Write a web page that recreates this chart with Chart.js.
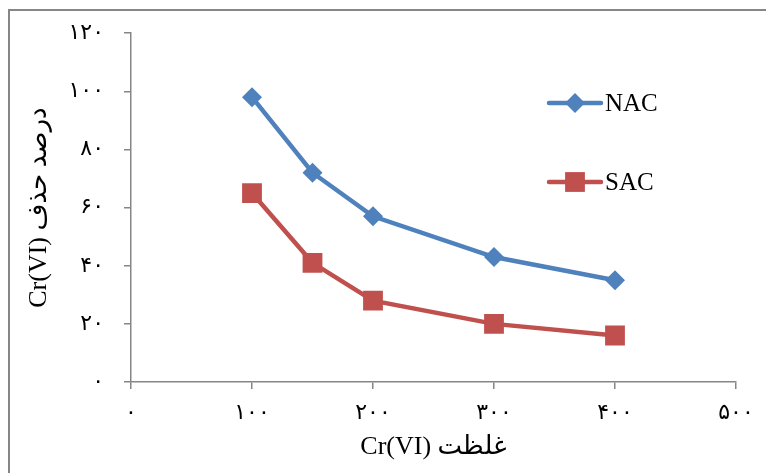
<!DOCTYPE html>
<html>
<head>
<meta charset="utf-8">
<script src="https://cdn.jsdelivr.net/npm/chart.js@4/dist/chart.umd.min.js"></script>
<style>
	body { margin: 0; background: #fff; }
	#wrap { position: relative; width: 766px; height: 473px; }
</style>
</head>
<body>
<div id="wrap"><canvas id="grafico"></canvas></div>
<script>
const concentrazioni = [100, 150, 200, 300, 400];
const nac = [98, 72, 57, 43, 35];
const sac = [65, 41, 28, 20, 16];
const xTicks = [0, 100, 200, 300, 400, 500];
const yTicks = [0, 20, 40, 60, 80, 100, 120];
const cifre = ["۰", "۱", "۲", "۳", "۴", "۵", "۶", "۷", "۸", "۹"];

const FONT = "'Liberation Serif', 'DejaVu Sans', serif";
const BLU = "#4F81BD";
const ROSSO = "#C0504D";
const GRIGIO = "#868686";

function persiano(n) {
	return String(n).split("").map(c => cifre[c] || c).join("");
}

function punti(valori) {
	return concentrazioni.map((x, i) => ({ x: x, y: valori[i] }));
}

// cornice esterna (solo lati sinistro e superiore visibili)
const cornice = {
	id: "cornice",
	beforeDraw(chart) {
		let ctx = chart.ctx;
		ctx.save();
		ctx.strokeStyle = GRIGIO;
		ctx.lineWidth = 2;
		ctx.strokeRect(9, 10, 800, 500);
		ctx.restore();
	}
};

// legenda disegnata a mano, come nell'originale
const legenda = {
	id: "legenda",
	afterDraw(chart) {
		let ctx = chart.ctx;
		let righe = [103, 182];
		chart.data.datasets.forEach((ds, i) => {
			let y = righe[i];
			ctx.save();
			ctx.strokeStyle = ds.borderColor;
			ctx.lineWidth = ds.borderWidth;
			ctx.lineCap = "round";
			ctx.beginPath();
			ctx.moveTo(549, y);
			ctx.lineTo(601, y);
			ctx.stroke();
			ctx.fillStyle = ds.backgroundColor;
			ctx.strokeStyle = ds.backgroundColor;
			Chart.helpers.drawPoint(ctx, {
				pointStyle: ds.pointStyle,
				radius: ds.pointRadius,
				rotation: 0,
				borderWidth: 0
			}, 575, y);
			ctx.fillStyle = "#000";
			ctx.font = "25px " + FONT;
			ctx.textBaseline = "middle";
			ctx.fillText(ds.label, 605, y + 1);
			ctx.restore();
		});
	}
};

let data = {
	type: "line",
	data: {
		datasets: [{
			label: "NAC",
			data: punti(nac),
			borderColor: BLU,
			backgroundColor: BLU,
			borderWidth: 4.5,
			pointStyle: "rectRot",
			pointRadius: 10,
			pointBorderWidth: 0,
			tension: 0
		}, {
			label: "SAC",
			data: punti(sac),
			borderColor: ROSSO,
			backgroundColor: ROSSO,
			borderWidth: 4.5,
			pointStyle: "rect",
			pointRadius: 14,
			pointBorderWidth: 0,
			tension: 0
		}]
	},
	options: {
		responsive: true,
		maintainAspectRatio: false,
		animation: false,
		layout: { padding: { top: 33, right: 30, left: 0, bottom: 0 } },
		plugins: {
			legend: { display: false },
			tooltip: { enabled: false }
		},
		scales: {
			x: {
				type: "linear",
				min: 0,
				max: 500,
				afterBuildTicks: (scale) => { scale.ticks = xTicks.map(v => ({ value: v })); },
				afterFit: (scale) => { scale.height = 91; },
				ticks: {
					color: "#000",
					font: { family: FONT, size: 22 },
					padding: 11,
					callback: (v) => persiano(v)
				},
				grid: { drawOnChartArea: false, drawTicks: true, tickLength: 7, color: GRIGIO, lineWidth: 1.5 },
				border: { color: GRIGIO, width: 1.5 },
				title: {
					display: true,
					text: "Cr(VI) غلظت",
					color: "#000",
					font: { family: FONT, size: 26 },
					padding: { top: 0, bottom: 10 }
				}
			},
			y: {
				min: 0,
				max: 120,
				afterBuildTicks: (scale) => { scale.ticks = yTicks.map(v => ({ value: v })); },
				afterFit: (scale) => { scale.width = 131; },
				ticks: {
					color: "#000",
					font: { family: FONT, size: 22 },
					padding: 20,
					callback: (v) => persiano(v)
				},
				grid: { drawOnChartArea: false, drawTicks: true, tickLength: 7, color: GRIGIO, lineWidth: 1.5 },
				border: { color: GRIGIO, width: 1.5 },
				title: {
					display: true,
					text: "Cr(VI) درصد حذف",
					color: "#000",
					font: { family: FONT, size: 26 },
					padding: { top: 24, bottom: 0 }
				}
			}
		}
	},
	plugins: [cornice, legenda]
};

window.onload = function () {
	let canvas = document.getElementById("grafico");
	chart = new Chart(canvas, data);
};
</script>
</body>
</html>
